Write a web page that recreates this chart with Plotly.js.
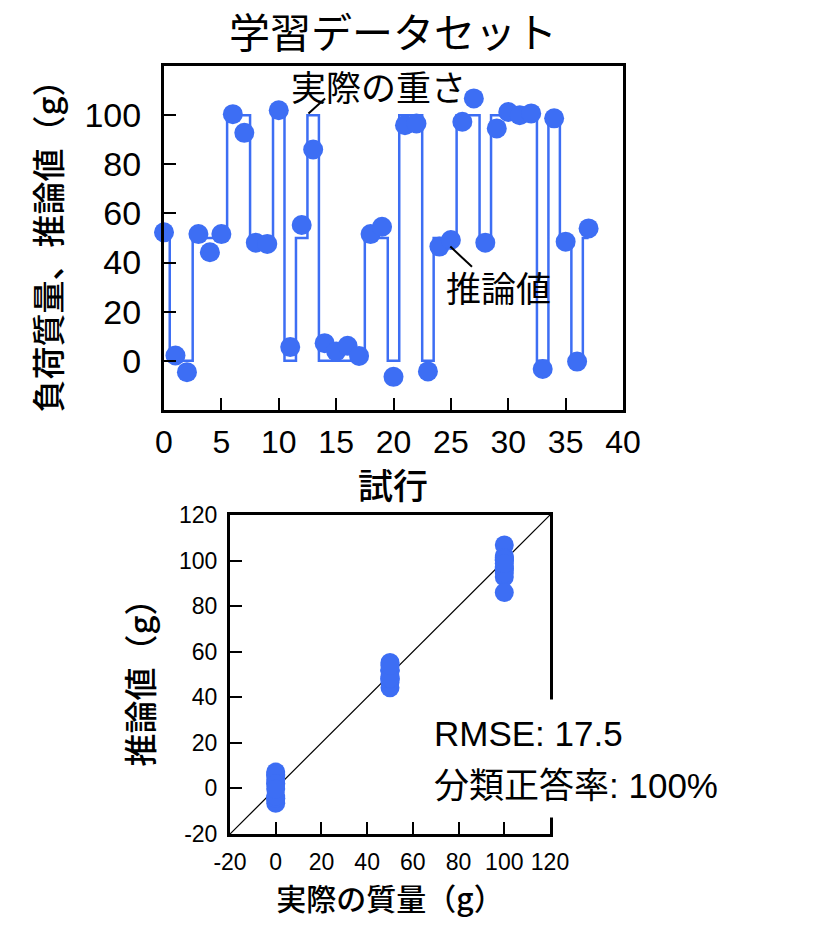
<!DOCTYPE html>
<html>
<head>
<meta charset="utf-8">
<script src="https://cdn.plot.ly/plotly-3.0.1.min.js"></script>
<style>html,body{margin:0;padding:0;background:#fff;}#chart{width:828px;height:944px;}</style>
</head>
<body>
<div id="chart"></div>
<script>
// ---- data ----
const trials = [0,1,2,3,4,5,6,7,8,9,10,11,12,13,14,15,16,17,18,19,20,21,22,23,24,25,26,27,28,29,30,31,32,33,34,35,36,37];
const actualWeight = [50,0,0,50,50,50,100,100,50,50,100,0,50,100,0,0,0,0,50,50,0,100,100,0,50,50,100,100,50,100,100,100,100,0,100,50,0,50];
const predicted = [52.3,2.2,-4.6,51.6,44.2,51.6,100.4,92.8,48.1,47.6,102.0,5.6,55.3,86.0,7.2,3.8,6.1,2.0,51.6,54.6,-6.5,95.9,96.6,-4.3,46.5,49.2,97.3,106.8,48.1,94.6,101.3,100.0,100.7,-3.3,98.7,48.5,-0.3,53.9];
const topXTicks = [0,5,10,15,20,25,30,35,40];
const topYTicks = [0,20,40,60,80,100];
const botTicks = [-20,0,20,40,60,80,100,120];
const botTickLabels = ['-20','0','20','40','60','80','100','120'];
const identityLine = [-20,120];
const rmse = "17.5";
const accuracy = "100%";

const blue = '#3d6ef4';
const latin = 'Liberation Sans, Arial, Noto Sans CJK JP, sans-serif';
const cjk = 'Noto Sans CJK JP, Liberation Sans, sans-serif';

const traces = [
  {x: trials, y: actualWeight, mode: 'lines', line: {shape: 'hvh', color: blue, width: 2.5},
   xaxis: 'x', yaxis: 'y', showlegend: false, hoverinfo: 'skip'},
  {x: trials, y: predicted, mode: 'markers', marker: {size: 20, color: blue},
   xaxis: 'x', yaxis: 'y', showlegend: false, cliponaxis: false},
  {x: identityLine, y: identityLine, mode: 'lines', line: {color: 'black', width: 1.2},
   xaxis: 'x2', yaxis: 'y2', showlegend: false, hoverinfo: 'skip'},
  {x: actualWeight, y: predicted, mode: 'markers', marker: {size: 19, color: blue},
   xaxis: 'x2', yaxis: 'y2', showlegend: false, cliponaxis: false}
];

const axBase = {showline: true, linecolor: 'black', linewidth: 3, mirror: true,
  showgrid: false, zeroline: false, ticks: 'inside', tickcolor: 'black',
  tickwidth: 2, ticklen: 12, automargin: false};

const layout = {
  width: 828, height: 944,
  margin: {l: 0, r: 0, t: 0, b: 0},
  paper_bgcolor: 'white', plot_bgcolor: 'white',
  font: {family: latin, color: 'black'},
  title: {text: '学習データセット', font: {family: cjk, size: 41, color: 'black'},
    x: 393/828, xanchor: 'center', xref: 'paper', y: 1 - 34/944, yanchor: 'middle', yref: 'paper'},
  xaxis: Object.assign({}, axBase, {domain: [164/828, 623/828], range: [0, 40],
    tickvals: topXTicks, tickfont: {size: 32, family: latin}, ticklabelstandoff: 2,
    title: {text: ''}, anchor: 'y'}),
  yaxis: Object.assign({}, axBase, {domain: [1 - 410/944, 1 - 66/944], range: [-20, 120],
    tickvals: topYTicks, tickfont: {size: 34, family: latin}, ticklabelstandoff: 13,
    title: {text: '負荷質量、推論値（g）', font: {family: cjk, size: 33, weight: 500}, standoff: 13}, anchor: 'x'}),
  xaxis2: Object.assign({}, axBase, {domain: [230/828, 550/828], range: [-20, 120],
    tickvals: botTicks, ticktext: botTickLabels, tickfont: {size: 23, family: latin}, ticklabelstandoff: 5,
    title: {text: '実際の質量（g）', font: {family: cjk, size: 30, weight: 500}, standoff: 0}, anchor: 'y2'}),
  yaxis2: Object.assign({}, axBase, {domain: [1 - 834/944, 1 - 515/944], range: [-20, 120],
    tickvals: botTicks, ticktext: botTickLabels, tickfont: {size: 23, family: latin}, ticklabelstandoff: 5,
    title: {text: '推論値（g）', font: {family: cjk, size: 33, weight: 500}, standoff: 16}, anchor: 'x2'}),
  shapes: [
    {type: 'line', xref: 'x', yref: 'y', x0: 12.59, y0: 100.7, x1: 14.04, y1: 106.8,
     line: {color: 'black', width: 2}},
    {type: 'line', xref: 'x', yref: 'y', x0: 24.95, y0: 46.5, x1: 26.84, y1: 38.3,
     line: {color: 'black', width: 2}}
  ],
  annotations: [
    {text: '試行', xref: 'paper', yref: 'paper', x: 393/828, y: 1 - 484/944, showarrow: false,
     xanchor: 'center', yanchor: 'middle', font: {family: cjk, size: 35, weight: 500, color: 'black'}},
    {text: '実際の重さ', xref: 'x', yref: 'y', x: 18.67, y: 112.2, showarrow: false,
     xanchor: 'center', yanchor: 'middle', font: {family: cjk, size: 35, color: 'black'}},
    {text: '推論値', xref: 'x', yref: 'y', x: 29.13, y: 30.1, showarrow: false,
     xanchor: 'center', yanchor: 'middle', font: {family: cjk, size: 35, color: 'black'}},
    {text: 'RMSE: ' + rmse, xref: 'paper', yref: 'paper', x: 419/828, y: 1 - 733/944,
     xanchor: 'left', yanchor: 'middle', showarrow: false, bgcolor: 'white', borderpad: 14,
     font: {family: latin, size: 35, color: 'black'}},
    {text: '分類正答率: ' + accuracy, xref: 'paper', yref: 'paper', x: 421/828, y: 1 - 785/944,
     xanchor: 'left', yanchor: 'middle', showarrow: false, bgcolor: 'white', borderpad: 12,
     font: {family: latin, size: 35, color: 'black'}}
  ]
};

Plotly.newPlot('chart', traces, layout, {staticPlot: true, displayModeBar: false});
</script>
</body>
</html>
